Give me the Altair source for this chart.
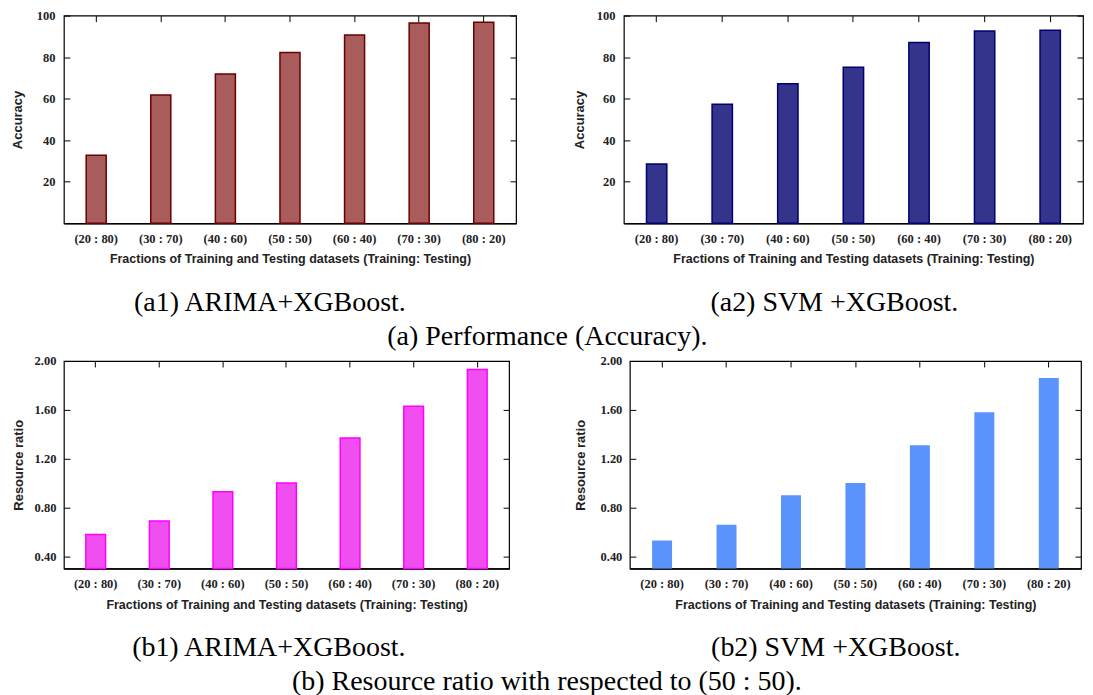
import altair as alt
import pandas as pd

categories = ["(20 : 80)", "(30 : 70)", "(40 : 60)", "(50 : 50)", "(60 : 40)", "(70 : 30)", "(80 : 20)"]
acc_arima = [32.7, 61.8, 71.9, 82.2, 90.7, 96.5, 96.8]
acc_svm = [28.5, 57.3, 67.2, 75.1, 87.1, 92.6, 92.9]
res_arima = [0.58, 0.69, 0.93, 1.00, 1.37, 1.63, 1.93]
res_svm = [0.53, 0.66, 0.90, 1.00, 1.31, 1.58, 1.86]

acc_ticks = [20, 40, 60, 80, 100]
res_ticks = [0.40, 0.80, 1.20, 1.60, 2.00]

XTITLE = "Fractions of Training and Testing datasets (Training: Testing)"


def panel(values, ydom, yticks, fmt, fill, stroke, ytitle, width, caption,
          label_pad, title_pad, cap_dx):
    df = pd.DataFrame({"cat": categories, "val": values})
    xscale = alt.Scale(paddingInner=0.69, paddingOuter=0.345)
    yscale = alt.Scale(domain=ydom, nice=False, zero=False)
    bar_kw = dict(fill=fill, strokeWidth=1.5)
    if stroke:
        bar_kw["stroke"] = stroke
    main = alt.Chart(df).mark_bar(**bar_kw).encode(
        x=alt.X("cat:N", sort=categories, scale=xscale,
                axis=alt.Axis(title=XTITLE, labelAngle=0, ticks=False,
                              labelPadding=9, titlePadding=8,
                              domain=True, domainColor="black", domainWidth=1.5)),
        y=alt.Y("val:Q", scale=yscale,
                axis=alt.Axis(title=ytitle, values=yticks, format=fmt,
                              offset=-6, tickSize=6, tickColor="black",
                              domain=False, grid=False, minExtent=0,
                              labelPadding=label_pad, titlePadding=title_pad)),
        y2=alt.datum(ydom[0]),
    )
    frame = alt.Chart(df).mark_bar(opacity=0).encode(
        x=alt.X("cat:N", sort=categories, scale=xscale,
                axis=alt.Axis(orient="top", labels=False, title=None,
                              offset=-6, tickSize=6, tickColor="black",
                              domain=False, minExtent=0)),
        y=alt.Y("val:Q", scale=yscale,
                axis=alt.Axis(orient="right", labels=False, title=None,
                              values=yticks, offset=-6, tickSize=6,
                              tickColor="black", domain=False, grid=False,
                              minExtent=0)),
        y2=alt.datum(ydom[0]),
    )
    return alt.layer(main, frame).resolve_axis(
        x="independent", y="independent"
    ).properties(
        width=width, height=208,
        title=alt.TitleParams(caption, orient="bottom", anchor="middle",
                              frame="bounds", offset=24, dx=cap_dx,
                              font="Liberation Serif", fontSize=28,
                              fontWeight="normal", color="black"),
    )


a1 = panel(acc_arima, [0, 100], acc_ticks, "d", "#a85c5c", "#6a0000",
           "Accuracy", 453, "(a1) ARIMA+XGBoost.", 9, 12, 6)
a2 = panel(acc_svm, [0, 100], acc_ticks, "d", "#34348c", "#000070",
           "Accuracy", 460, "(a2) SVM +XGBoost.", 9, 10, 6)
b1 = panel(res_arima, [0.3, 2.0], res_ticks, ".2f", "#f04ef0", "#ff00ff",
           "Resource ratio", 446, "(b1) ARIMA+XGBoost.", 8, 9, 8)
b2 = panel(res_svm, [0.3, 2.0], res_ticks, ".2f", "#5b93fc", None,
           "Resource ratio", 452, "(b2) SVM +XGBoost.", 8, 13, 8)

grp_title = dict(orient="bottom", anchor="middle", offset=5,
                 font="Liberation Serif", fontSize=28, fontWeight="normal",
                 color="black")

row_a = alt.hconcat(a1, a2, spacing=54).properties(
    title=alt.TitleParams("(a) Performance (Accuracy).", **grp_title))
row_b = alt.hconcat(b1, b2, spacing=62).properties(
    title=alt.TitleParams("(b) Resource ratio with respected to (50 : 50).", **grp_title))

chart = alt.vconcat(row_a, row_b, spacing=3).properties(
    padding={"left": 2, "top": 0, "right": 0, "bottom": 0}
).configure_view(
    stroke="black", strokeWidth=1.2
).configure_axis(
    labelFont="Liberation Serif", labelFontWeight="bold", labelFontSize=12.5,
    labelColor="#222", titleFont="Liberation Sans", titleFontWeight="bold",
    titleFontSize=12.5, titleColor="#222"
).configure_axisY(
    titleFontSize=13
)

chart.save("out.html", embed_options={"renderer": "svg", "actions": False})
